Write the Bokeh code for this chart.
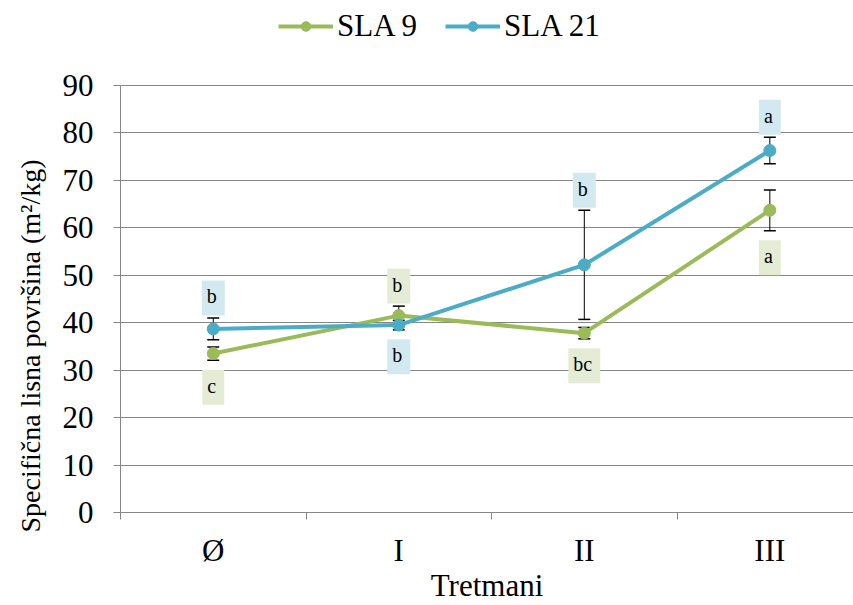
from bokeh.plotting import figure
from bokeh.models import (ColumnDataSource, Range1d, FixedTicker, Whisker, TeeHead,
                          Legend, LegendItem, Title)
from bokeh.core.properties import value
from bokeh.embed import file_html
from bokeh.resources import INLINE

categories = ["Ø", "I", "II", "III"]
sla9 = [33.5, 41.5, 37.8, 63.7]
sla9_err = [1.4, 2.0, 1.2, 4.3]
sla21 = [38.7, 39.5, 52.2, 76.3]
sla21_err = [2.3, 1.0, 11.5, 2.8]
sla9_letters = ["c", "b", "bc", "a"]
sla9_side = ["below", "above", "below", "below"]
sla21_letters = ["b", "b", "b", "a"]
sla21_side = ["above", "below", "above", "above"]
y_ticks = list(range(0, 91, 10))

GREEN = "#9BBB59"
BLUE = "#4BACC6"
GREEN_BOX = "#E4ECD5"
BLUE_BOX = "#D3E9F0"
FONT = "Liberation Serif"
FS = "31px"

xs = list(range(len(categories)))

# frame spans the full height above the x axis (legend sits inside, above the 90 line)
p = figure(width=853, height=605, output_backend="svg", toolbar_location=None,
           x_range=Range1d(-0.5, 3.451), y_range=Range1d(0, 90 * 512 / 427),
           min_border_left=120, min_border_right=0, min_border_top=0, min_border_bottom=93)
p.outline_line_color = None
p.background_fill_color = "white"

# axes
p.yaxis.ticker = FixedTicker(ticks=y_ticks)
p.yaxis.bounds = (0, 90)
p.xaxis.ticker = FixedTicker(ticks=xs, minor_ticks=[-0.5, 0.5, 1.5, 2.5])
p.xaxis.major_label_overrides = {i: c for i, c in enumerate(categories)}
for ax in (p.xaxis[0], p.yaxis[0]):
    ax.axis_line_color = "#868686"
    ax.axis_line_width = 1
    ax.major_label_text_font = FONT
    ax.major_label_text_font_size = FS
    ax.major_label_text_color = "black"
    ax.axis_label_text_font = FONT
    ax.axis_label_text_font_size = FS
    ax.axis_label_text_font_style = "normal"
    ax.axis_label_text_color = "black"
p.xaxis.major_tick_line_color = None
p.xaxis.major_tick_out = 0
p.xaxis.major_tick_in = 0
p.xaxis.minor_tick_line_color = "#868686"
p.xaxis.minor_tick_out = 7
p.xaxis.minor_tick_in = 0
p.xaxis.major_label_standoff = 13
p.xaxis.axis_label = "Tretmani"
p.xaxis.axis_label_standoff = -3
p.yaxis.major_tick_line_color = "#868686"
p.yaxis.major_tick_out = 7
p.yaxis.major_tick_in = 0
p.yaxis.minor_tick_line_color = None
p.yaxis.major_label_standoff = 20

ylabel = Title(text="Specifična lisna površina (m²/kg)", align="left", offset=-20,
               vertical_align="top",
               text_font=FONT, text_font_size="28px", text_font_style="normal",
               text_color="black", standoff=24)
p.add_layout(ylabel, "left")

p.xgrid.grid_line_color = None
p.ygrid.grid_line_color = "#868686"
p.ygrid.grid_line_width = 1

# error bars
for vals, errs in ((sla9, sla9_err), (sla21, sla21_err)):
    src = ColumnDataSource(dict(x=xs, upper=[v + e for v, e in zip(vals, errs)],
                                lower=[v - e for v, e in zip(vals, errs)]))
    w = Whisker(base="x", upper="upper", lower="lower", source=src, dimension="height",
                line_color="black", line_width=1,
                upper_head=TeeHead(size=12, line_color="black", line_width=1.5),
                lower_head=TeeHead(size=12, line_color="black", line_width=1.5))
    p.add_layout(w)

# lines
items = []
for name, vals, color in (("SLA 9", sla9, GREEN), ("SLA 21", sla21, BLUE)):
    src = ColumnDataSource(dict(x=xs, y=vals))
    l = p.line("x", "y", source=src, line_color=color, line_width=4)
    s = p.scatter("x", "y", source=src, size=12, fill_color=color, line_color=color)
    items.append(LegendItem(label=name, renderers=[l, s]))

# significance letters
for vals, errs, letters, sides, box in ((sla9, sla9_err, sla9_letters, sla9_side, GREEN_BOX),
                                        (sla21, sla21_err, sla21_letters, sla21_side, BLUE_BOX)):
    for side, off in (("above", -20), ("below", 27)):
        idx = [i for i, s in enumerate(sides) if s == side]
        ys = [vals[i] + errs[i] if side == "above" else vals[i] - errs[i] for i in idx]
        src = ColumnDataSource(dict(x=[xs[i] for i in idx], y=ys, t=[letters[i] for i in idx]))
        p.text("x", "y", text="t", source=src, y_offset=off,
               text_font=value(FONT), text_font_size="20px", text_color="black",
               text_align="center", text_baseline="middle",
               background_fill_color=box, padding=[5, 8, 5, 8])

legend = Legend(items=items, orientation="horizontal", location=(158, 468),
                label_text_font=FONT, label_text_font_size=FS, label_text_color="black",
                glyph_width=55, glyph_height=24, spacing=28, label_standoff=4,
                border_line_color=None, background_fill_alpha=0, padding=0, margin=0)
p.add_layout(legend, "center")

open("out.html", "w").write(file_html(p, INLINE))
